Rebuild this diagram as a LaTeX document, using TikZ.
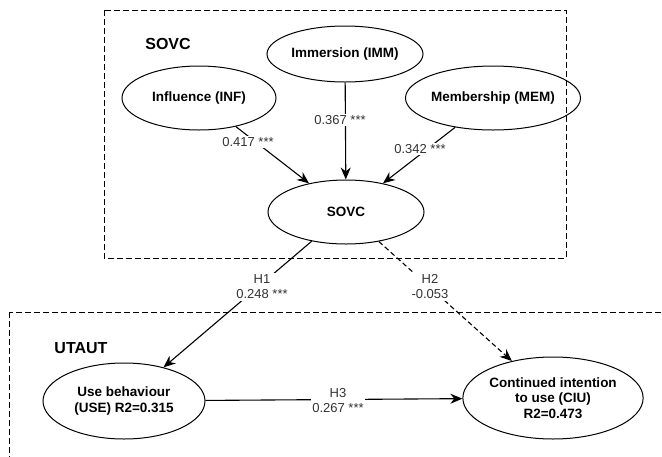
\documentclass[tikz,border=0pt]{standalone}
\usepackage{fontspec}
\setmainfont{Liberation Sans}
\usetikzlibrary{arrows.meta,shapes.geometric}
\begin{document}
\begin{tikzpicture}[x=1pt,y=-1pt,
  construct/.style={ellipse,draw,line width=1pt,inner sep=0pt,font=\fontsize{13.5}{15.5}\selectfont\bfseries,align=center},
  grouplabel/.style={font=\fontsize{16}{18}\selectfont\bfseries},
  coef/.style={font=\fontsize{13}{15}\selectfont,text=black!80,fill=white,align=center,inner sep=1.5pt},
  frame/.style={draw,dashed,dash pattern=on 6pt off 3pt,line width=0.9pt},
  path arrow/.style={draw,line width=1.1pt,-{Stealth[length=12pt,width=10pt]}},
]
\useasboundingbox (0,0) rectangle (662,456);
\fill[white] (0,0) rectangle (662,456);
% group frames
\draw[frame] (104,10) rectangle (566,258);
\draw[frame] (9,312) rectangle (680,480);
\node[grouplabel] (gsovc) at (168,44) {SOVC};
\node[grouplabel] (gutaut) at (81,348) {UTAUT};
% constructs
\node[construct,minimum width=156pt,minimum height=56pt] (imm) at (345,54) {Immersion (IMM)};
\node[construct,minimum width=154pt,minimum height=64pt] (inf) at (199,98) {Influence (INF)};
\node[construct,minimum width=156pt,minimum height=64pt] (mem) at (493,98) {Membership (MEM)};
\node[construct,minimum width=156pt,minimum height=64pt] (sovc) at (346,212) {SOVC};
\node[construct,minimum width=162pt,minimum height=76pt] (use) at (124,401) {Use behaviour\\(USE) R2=0.315};
\node[construct,minimum width=160pt,minimum height=82pt] (ciu) at (553,398) {Continued intention\\to use (CIU)\\R2=0.473};
% paths
\draw[path arrow] (inf) -- (sovc);
\draw[path arrow] (imm) -- (sovc);
\draw[path arrow] (mem) -- (sovc);
\draw[path arrow] (sovc) -- (use);
\draw[path arrow,dashed,dash pattern=on 5pt off 3pt] (sovc) -- (ciu);
\draw[path arrow] (use) -- (ciu);
% coefficient labels
\node[coef] (l1) at (248,142) {0.417 ***};
\node[coef] (l2) at (340,120) {0.367 ***};
\node[coef] (l3) at (420,149) {0.342 ***};
\node[coef] (h1) at (262,287) {H1\\0.248 ***};
\node[coef] (h2) at (430,287) {H2\\-0.053};
\node[coef] (h3) at (338,401) {H3\\0.267 ***};
\end{tikzpicture}
\end{document}
